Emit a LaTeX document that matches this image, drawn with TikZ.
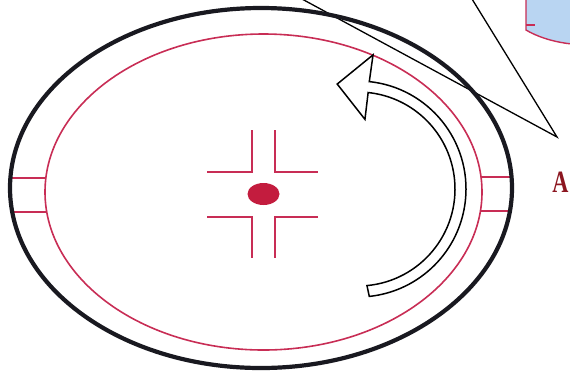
\documentclass[tikz,border=0pt]{standalone}
\usepackage{fontspec}
\setmainfont{Liberation Serif}
\usetikzlibrary{calc}
\definecolor{rimred}{RGB}{200,45,85}
\definecolor{dotred}{RGB}{195,28,62}
\definecolor{labelred}{RGB}{140,22,32}
\definecolor{padblue}{RGB}{185,213,242}
\definecolor{rimblack}{RGB}{25,25,32}
\begin{document}
\begin{tikzpicture}[x=1pt,y=-1pt,
  redline/.style={draw=rimred, line width=1.6pt},
  crossline/.style={draw=rimred, line width=1.9pt},
  callout/.style={draw=black, line width=1.3pt},
  arrowline/.style={draw=black, line width=1.5pt, line join=miter, fill=white},
  outerrim/.style={draw=rimblack, line width=4.2pt}]
\useasboundingbox (0,0) rectangle (570,376);
\clip (0,0) rectangle (570,376);
% blue pad at top right
\fill[padblue] (526,-2) -- (526,30) .. controls (536,36) and (552,42) .. (572,44) -- (572,-2) -- cycle;
\draw[redline, line width=1.4pt] (526,-2) -- (526,30) .. controls (536,36) and (552,42) .. (572,44);
\draw[redline, line width=1.4pt] (526,25) -- (535,25);
% callout lines
\draw[callout, line join=miter] (302,-1) -- (557,137) -- (472,-1);
% side tabs
\draw[redline] (12,178) -- (46,178) (12,212) -- (47,212);
\draw[redline] (481,177) -- (510,177) (480,211) -- (510,211);
% rims
\draw[outerrim] (261,188) ellipse [x radius=251, y radius=180];
\draw[redline] (263.5,192) ellipse [x radius=218.5, y radius=158];
% centre cross
\draw[crossline] (207,172) -- (252,172) -- (252,130);
\draw[crossline] (275,130) -- (275,172) -- (318,172);
\draw[crossline] (207,217) -- (252,217) -- (252,258);
\draw[crossline] (318,217) -- (275,217) -- (275,258);
\fill[dotred] (263.5,194) ellipse [x radius=16, y radius=11];
% curved arrow
\coordinate (C) at (358,189);
\draw[arrowline] ($(C)+(-84:108)$) arc[start angle=-84, end angle=84, radius=108]
  -- ($(C)+(84.7:97)$) arc[start angle=84.7, end angle=-84, radius=97]
  -- ($(C)+(-84.3:70)$) -- ($(C)+(-101.2:107)$) -- ($(C)+(-83.6:135)$) -- cycle;
% label
\node[font=\bfseries\fontsize{31}{31}\selectfont, text=labelred, anchor=base, xscale=0.72, inner sep=0pt] (labelA) at (560.5,192) {A};
\end{tikzpicture}
\end{document}
